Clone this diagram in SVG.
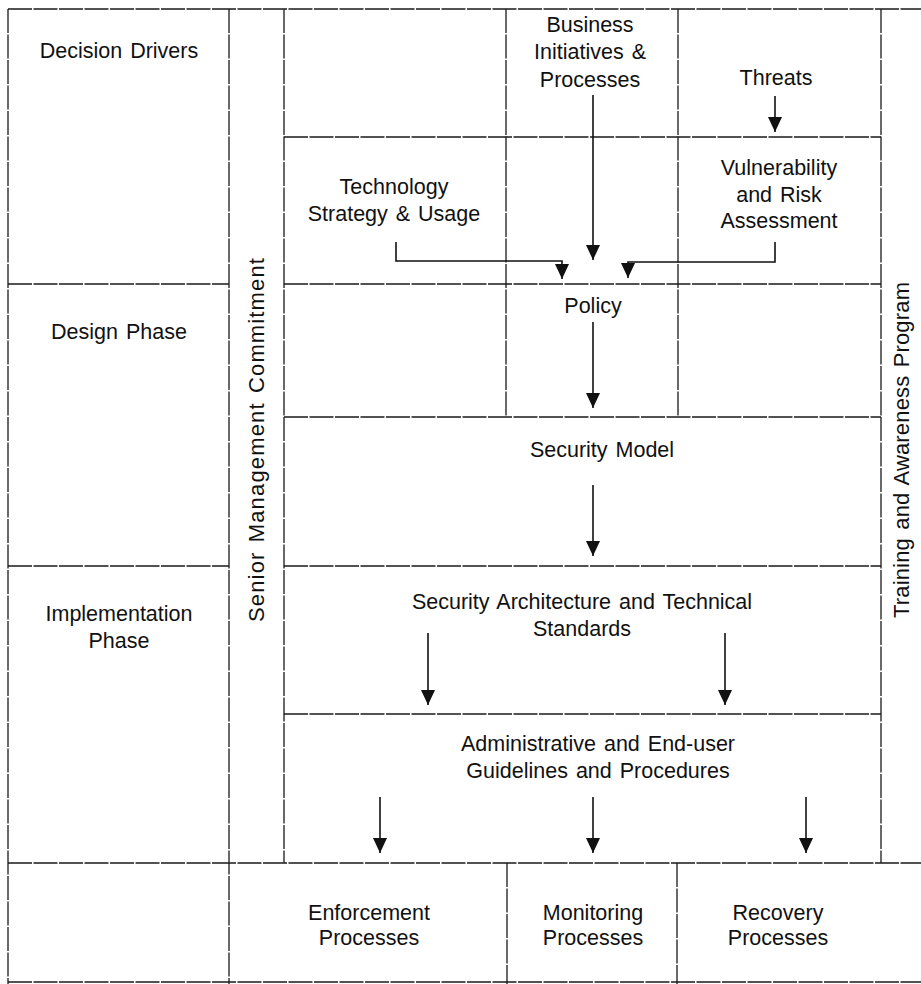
<svg xmlns="http://www.w3.org/2000/svg" width="921" height="984" viewBox="0 0 921 984">
  <style>
    .grid { stroke: #1a1a1a; stroke-width: 1.3; fill: none; stroke-dasharray: 24 1.5; }
    .conn { stroke: #111; stroke-width: 1.6; fill: none; marker-end: url(#arrow); }
    text { font-family: "Liberation Sans", Arial, Helvetica, sans-serif; font-size: 21.5px; fill: #111; text-anchor: middle; word-spacing: 2px; }
    .band { font-size: 22px; }
  </style>
  <defs>
    <marker id="arrow" viewBox="0 0 15 14" refX="15" refY="7" markerWidth="15" markerHeight="14" markerUnits="userSpaceOnUse" orient="auto">
      <path d="M0,0 L15,7 L0,14 z" fill="#111"/>
    </marker>
  </defs>
  <rect width="921" height="984" fill="#fff"/>

  <!-- table grid -->
  <g id="grid" class="grid">
    <path d="M8,9 H921"/>
    <path d="M284,137 H881"/>
    <path d="M8,284 H229 M284,284 H881"/>
    <path d="M284,417 H881"/>
    <path d="M8,566 H229 M284,566 H881"/>
    <path d="M284,714 H881"/>
    <path d="M8,863 H921"/>
    <path d="M8,982 H921"/>
    <path d="M8,9 V984"/>
    <path d="M229,9 V984"/>
    <path d="M284,9 V863"/>
    <path d="M506,9 V417"/>
    <path d="M678,9 V417"/>
    <path d="M881,9 V863"/>
    <path d="M507,863 V984"/>
    <path d="M677,863 V984"/>
  </g>

  <!-- row labels -->
  <g id="decision-drivers"><text x="119" y="58">Decision Drivers</text></g>
  <g id="design-phase"><text x="119" y="339">Design Phase</text></g>
  <g id="implementation-phase"><text x="119" y="621">Implementation</text><text x="119" y="648">Phase</text></g>

  <!-- side bands -->
  <g id="senior-management"><text class="band" transform="translate(264,440) rotate(-90)" textLength="364" lengthAdjust="spacing">Senior Management Commitment</text></g>
  <g id="training-awareness"><text class="band" transform="translate(909,450) rotate(-90)" textLength="336" lengthAdjust="spacing">Training and Awareness Program</text></g>

  <!-- drivers -->
  <g id="business"><text x="590" y="32">Business</text><text x="590" y="59">Initiatives &amp;</text><text x="590" y="87">Processes</text></g>
  <g id="threats"><text x="776" y="85">Threats</text></g>
  <g id="technology"><text x="394" y="194">Technology</text><text x="394" y="221">Strategy &amp; Usage</text></g>
  <g id="vulnerability"><text x="779" y="175">Vulnerability</text><text x="779" y="202">and Risk</text><text x="779" y="228">Assessment</text></g>

  <!-- design -->
  <g id="policy"><text x="593" y="313">Policy</text></g>
  <g id="security-model"><text x="602" y="457">Security Model</text></g>

  <!-- implementation -->
  <g id="architecture"><text x="582" y="609">Security Architecture and Technical</text><text x="582" y="636">Standards</text></g>
  <g id="guidelines"><text x="598" y="751">Administrative and End-user</text><text x="598" y="778">Guidelines and Procedures</text></g>

  <!-- processes -->
  <g id="enforcement"><text x="369" y="920">Enforcement</text><text x="369" y="945">Processes</text></g>
  <g id="monitoring"><text x="593" y="920">Monitoring</text><text x="593" y="945">Processes</text></g>
  <g id="recovery"><text x="778" y="920">Recovery</text><text x="778" y="945">Processes</text></g>

  <!-- flow arrows -->
  <g id="connectors" class="conn">
    <path d="M593,95 V260"/>
    <path d="M775,96 V132"/>
    <path d="M396,242 V261 H562 V279"/>
    <path d="M775,242 V262 H628 V278"/>
    <path d="M593,322 V408"/>
    <path d="M593,485 V556"/>
    <path d="M428,633 V705"/>
    <path d="M725,633 V705"/>
    <path d="M380,797 V853"/>
    <path d="M593,797 V853"/>
    <path d="M806,797 V853"/>
  </g>
</svg>
